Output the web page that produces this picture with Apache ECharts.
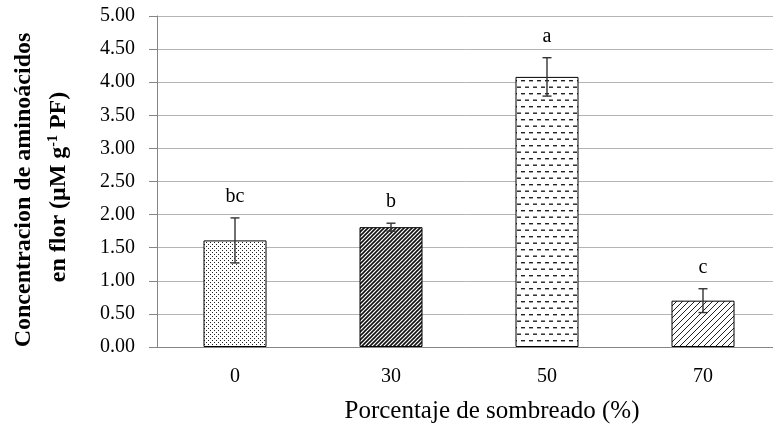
<!DOCTYPE html>
<html>
<head>
<meta charset="utf-8">
<script src="https://cdn.jsdelivr.net/npm/echarts@6/dist/echarts.min.js"></script>
<style>
  html, body { margin: 0; padding: 0; background: #fff; }
  #chart { width: 773px; height: 425px; }
</style>
</head>
<body>
<div id="chart"></div>
<script>
var categories = ['0', '30', '50', '70'];
var means = [1.61, 1.81, 4.08, 0.70];
var errors = [0.34, 0.06, 0.29, 0.18];
var letters = ['bc', 'b', 'a', 'c'];
var yTicks = { min: 0, max: 5, interval: 0.5 };

// hatch fills, one per bar
function makePattern(kind) {
    var c = document.createElement('canvas');
    var ctx;
    if (kind == 'dots') {
        c.width = 4; c.height = 4;
        ctx = c.getContext('2d');
        ctx.fillStyle = '#fff'; ctx.fillRect(0, 0, 4, 4);
        ctx.fillStyle = '#222';
        ctx.fillRect(0, 0, 1, 1);
        ctx.fillRect(2, 2, 1, 1);
    } else if (kind == 'dense') {
        c.width = 4; c.height = 4;
        ctx = c.getContext('2d');
        ctx.fillStyle = '#fff'; ctx.fillRect(0, 0, 4, 4);
        ctx.strokeStyle = '#111'; ctx.lineWidth = 1.6;
        ctx.beginPath();
        ctx.moveTo(-1, 5); ctx.lineTo(5, -1);
        ctx.moveTo(-1, 1); ctx.lineTo(1, -1);
        ctx.moveTo(3, 5); ctx.lineTo(5, 3);
        ctx.stroke();
    } else if (kind == 'dash') {
        c.width = 8; c.height = 13;
        ctx = c.getContext('2d');
        ctx.fillStyle = '#fff'; ctx.fillRect(0, 0, 8, 13);
        ctx.fillStyle = '#222';
        ctx.fillRect(1, 2, 4, 1.4);
        ctx.fillRect(5, 8.5, 3, 1.4);
        ctx.fillRect(0, 8.5, 1, 1.4);
    } else {
        c.width = 6; c.height = 6;
        ctx = c.getContext('2d');
        ctx.fillStyle = '#fff'; ctx.fillRect(0, 0, 6, 6);
        ctx.strokeStyle = '#222'; ctx.lineWidth = 1;
        ctx.beginPath();
        ctx.moveTo(-1, 7); ctx.lineTo(7, -1);
        ctx.moveTo(-1, 1); ctx.lineTo(1, -1);
        ctx.moveTo(5, 7); ctx.lineTo(7, 5);
        ctx.stroke();
    }
    return { image: c, repeat: 'repeat' };
}
var fills = ['dots', 'dense', 'dash', 'sparse'];

var font = '"Liberation Serif", "Times New Roman", serif';

var barData = means.map(function (v, i) {
    return {
        value: v,
        itemStyle: { color: makePattern(fills[i]), borderColor: '#000', borderWidth: 1 }
    };
});

var errData = means.map(function (v, i) {
    return [i, v, errors[i], letters[i]];
});

var chart = echarts.init(document.getElementById('chart'));
chart.setOption({
    animation: false,
    backgroundColor: '#fff',
    grid: { left: 157, right: -8, top: 16, bottom: 78, outerBoundsMode: 'none', containLabel: false },
    xAxis: {
        type: 'category',
        data: categories,
        axisLine: { lineStyle: { color: '#868686', width: 1 } },
        axisTick: { length: 7, lineStyle: { color: '#868686' } },
        axisLabel: { color: '#000', fontFamily: font, fontSize: 20, margin: 20 }
    },
    yAxis: {
        type: 'value',
        min: yTicks.min,
        max: yTicks.max,
        interval: yTicks.interval,
        axisLine: { show: true, lineStyle: { color: '#868686', width: 1 } },
        axisTick: { show: true, length: 8, lineStyle: { color: '#868686' } },
        splitLine: { lineStyle: { color: '#b4b4b4', width: 1 } },
        axisLabel: {
            color: '#000', fontFamily: font, fontSize: 20, margin: 22,
            formatter: function (v) { return v.toFixed(2); }
        }
    },
    series: [
        {
            type: 'bar',
            data: barData,
            barWidth: 63
        },
        {
            type: 'custom',
            data: errData,
            z: 5,
            renderItem: function (params, api) {
                var i = api.value(0), m = api.value(1), e = api.value(2);
                var top = api.coord([i, m + e]);
                var bot = api.coord([i, m - e]);
                var cap = 4.5;
                var st = { stroke: '#333', lineWidth: 1.4 };
                return {
                    type: 'group',
                    children: [
                        { type: 'line', shape: { x1: top[0], y1: top[1], x2: bot[0], y2: bot[1] }, style: st },
                        { type: 'line', shape: { x1: top[0] - cap, y1: top[1], x2: top[0] + cap, y2: top[1] }, style: st },
                        { type: 'line', shape: { x1: bot[0] - cap, y1: bot[1], x2: bot[0] + cap, y2: bot[1] }, style: st },
                        {
                            type: 'text',
                            style: {
                                text: errData[params.dataIndex][3],
                                x: top[0], y: top[1] - 21,
                                align: 'center', verticalAlign: 'middle',
                                font: '20px ' + font, fill: '#000'
                            }
                        }
                    ]
                };
            }
        }
    ],
    graphic: [
        {
            type: 'text',
            x: 24, y: 190,
            rotation: Math.PI / 2,
            style: {
                text: 'Concentracion de aminoácidos',
                font: 'bold 24px ' + font, fill: '#000',
                align: 'center', verticalAlign: 'middle'
            }
        },
        {
            type: 'text',
            x: 59, y: 187,
            rotation: Math.PI / 2,
            style: {
                text: '{n|en flor (μM g}{s|-1}{n| PF)}',
                align: 'center', verticalAlign: 'middle',
                rich: {
                    n: { font: 'bold 24px ' + font, fill: '#000' },
                    s: { font: 'bold 14px ' + font, fill: '#000', verticalAlign: 'top', padding: [0, 0, 12, 0] }
                }
            }
        },
        {
            type: 'text',
            x: 492, y: 411,
            style: {
                text: 'Porcentaje de sombreado (%)',
                font: '25px ' + font, fill: '#000',
                align: 'center', verticalAlign: 'middle'
            }
        }
    ]
});
</script>
</body>
</html>
